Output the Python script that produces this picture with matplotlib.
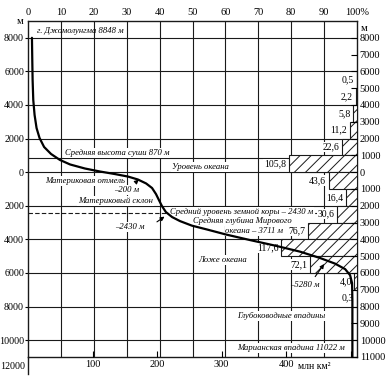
import matplotlib
matplotlib.use("Agg")
import matplotlib.pyplot as plt
import numpy as np

plt.rcParams['font.family'] = ['Liberation Serif', 'DejaVu Serif']
plt.rcParams['hatch.linewidth'] = 0.7

TOTAL = 510.0  # million km^2 = 100 %

# Hypsographic curve (cumulative % of Earth's surface, elevation m)
curve_pct = [1.2, 1.3, 1.4, 1.6, 2.0, 2.6, 3.5, 4.9, 7.0, 9.7, 12.8, 17.3, 21.9, 26.4, 30.4,
             33.4, 35.9, 37.7, 38.9, 39.8, 40.7, 41.9, 43.8, 46.2, 49.8, 54.4, 60.2, 67.5,
             75.1, 82.7, 88.8, 93.3, 96.4, 97.9, 98.5, 98.6, 98.6]
curve_elev = [8000, 6690, 5500, 4300, 3410, 2630, 2040, 1500, 1085, 730, 460, 220, 40, -110, -260,
              -435, -670, -940, -1300, -1660, -2010, -2370, -2670, -2910, -3180, -3410, -3710, -4040,
              -4370, -4730, -5110, -5440, -5770, -6130, -6600, -7620, -11000]

# Area per 1000 m band (million km^2)
band_top = [6000, 5000, 4000, 3000, 2000, 1000, 0, -1000, -2000, -3000, -4000, -5000, -6000, -7000]
band_area = [0.5, 2.2, 5.8, 11.2, 22.6, 105.8, 43.6, 16.4, 30.6, 76.7, 117.6, 72.1, 4.0, 0.3]

top_ticks = [0, 10, 20, 30, 40, 50, 60, 70, 80, 90, 100]
left_ticks = [8000, 6000, 4000, 2000, 0, -2000, -4000, -6000, -8000, -10000]
right_ticks = list(range(8000, -11001, -1000))
bottom_ticks = [100, 200, 300, 400, 500]
bottom_labels = ['100', '200', '300', '400', '']

fig = plt.figure(figsize=(3.87, 3.81), dpi=100)
ax = fig.add_axes([28/387, 1-357/381, 329/387, 336/381])
ax.set_xlim(0, 100)
ax.set_ylim(-11000, 9000)

lc = '#1a1a1a'
for s in ax.spines.values():
    s.set_linewidth(1.0)
    s.set_color(lc)

# grid
for x in top_ticks[1:-1]:
    ax.axvline(x, color=lc, lw=0.8, zorder=1)
for y in left_ticks:
    ax.axhline(y, color=lc, lw=0.8, zorder=1)
ax.axhline(870, color=lc, lw=0.8, zorder=1)
ax.axhline(-2430, xmax=0.93, color=lc, lw=0.8, ls=(0, (4, 2)), zorder=1)

# bars
for top, a in zip(band_top, band_area):
    w = a / TOTAL * 100
    ax.barh(top - 500, w, height=1000, left=100 - w, color='white', edgecolor=lc,
            hatch='///', lw=0.8, zorder=3)
    ax.text(100 - w - 0.8, top - 500, f"{a:.1f}".replace('.', ','), ha='right', va='center',
            fontsize=7, zorder=5,
            bbox=dict(facecolor='white', edgecolor='none', pad=0.5))

# curve
ax.plot(curve_pct, curve_elev, color='black', lw=1.6, zorder=8, solid_capstyle='round')

# annotations
tk = dict(fontsize=6.2, style='italic', zorder=6)
wb = dict(facecolor='white', edgecolor='none', pad=0.6)
ax.text(2.7, 8380, 'г. Джомолунгма 8848 м', ha='left', va='center', **tk)
ax.text(11.2, 1140, 'Средняя высота суши 870 м', ha='left', va='center', bbox=wb, **tk)
ax.text(43.8, 330, 'Уровень океана', ha='left', va='center', bbox=wb, **tk)
ax.text(5.2, -520, 'Материковая отмель', ha='left', va='center', bbox=wb, **tk)
ax.text(30.0, -1060, '–200 м', ha='center', va='center', bbox=wb, **tk)
ax.text(15.2, -1720, 'Материковый склон', ha='left', va='center', bbox=wb, **tk)
ax.text(31.0, -3250, '–2430 м', ha='center', va='center', bbox=wb, **tk)
ax.text(43.2, -2350, 'Средний уровень земной коры – 2430 м', ha='left', va='center', bbox=wb, **tk)
ax.text(50.2, -2900, 'Средняя глубина Мирового', ha='left', va='center', bbox=wb, **tk)
ax.text(60.0, -3480, 'океана – 3711 м', ha='left', va='center', bbox=wb, **tk)
ax.text(51.7, -5220, 'Ложе океана', ha='left', va='center', bbox=wb, **tk)
ax.text(84.0, -6720, '–5280 м', ha='center', va='center', **tk)
ax.text(63.5, -8570, 'Глубоководные впадины', ha='left', va='center', bbox=wb, **tk)
ax.text(63.5, -10480, 'Марианская впадина 11022 м', ha='left', va='center', bbox=wb, **tk)

ap = dict(arrowstyle='-|>', color='black', lw=0.8, mutation_scale=6)
ax.annotate('', xy=(34.3, -330), xytext=(32.2, -700), arrowprops=ap, zorder=6)
ax.annotate('', xy=(42.2, -2550), xytext=(38.5, -3050), arrowprops=ap, zorder=6)
ax.annotate('', xy=(90.5, -5330), xytext=(86.8, -6350), arrowprops=ap, zorder=6)

# left axis
ax.set_yticks(left_ticks)
ax.set_yticklabels([str(abs(t)) for t in left_ticks], fontsize=7.2)
ax.tick_params(axis='y', length=2, pad=0.8, direction='out')
ax.text(-1.5, 8950, 'м', ha='right', va='center', fontsize=7.5)
ax.plot([0, 0], [-11000, -12000], color=lc, lw=1.0, clip_on=False)
ax.text(-0.8, -11550, '12000', ha='right', va='center', fontsize=7.2)

# right axis
ar = ax.twinx()
ar.set_ylim(ax.get_ylim())
ar.set_yticks(right_ticks)
ar.set_yticklabels([str(abs(t)) for t in right_ticks], fontsize=7.5)
ar.tick_params(axis='y', direction='in', length=4, pad=2)
for s in ar.spines.values():
    s.set_visible(False)
ax.text(101.2, 8580, 'м', ha='left', va='center', fontsize=7.5)

# bottom axis (million km^2)
ab = ax.twiny()
ab.set_xlim(0, TOTAL)
ab.set_ylim(ax.get_ylim())
ab.xaxis.tick_bottom()
ab.set_xticks(bottom_ticks)
ab.set_xticklabels(bottom_labels, fontsize=7.5)
ab.tick_params(axis='x', direction='in', length=4, pad=2)
for s in ab.spines.values():
    s.set_visible(False)
ab.text(418, -11560, 'млн км²', ha='left', va='center', fontsize=7)

# top axis (percent) - set after twiny, which resets it
ax.xaxis.tick_top()
ax.set_xticks(top_ticks)
ax.set_xticklabels([str(t) for t in top_ticks[:-1]] + ['100%'], fontsize=7.5)
ax.tick_params(axis='x', which='both', length=0, pad=3)

fig.savefig('out.png', dpi=100)
